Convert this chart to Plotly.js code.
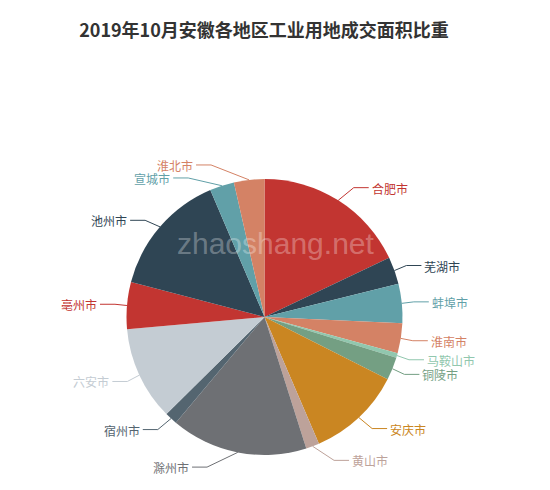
<!DOCTYPE html>
<html>
<head>
<meta charset="utf-8">
<script src="https://cdn.plot.ly/plotly-3.0.1.min.js"></script>
<style>html,body{margin:0;padding:0;background:#fff;}</style>
</head>
<body>
<div id="chart" style="width:550px;height:490px;"></div>
<script>
// ---- data (share of industrial land transaction area, %) ----
const regions = ["合肥市","芜湖市","蚌埠市","淮南市","马鞍山市","铜陵市","安庆市","黄山市","滁州市","宿州市","六安市","亳州市","池州市","宣城市","淮北市"];
const shares  = [17.94, 3.19, 4.58, 3.53, 0.53, 2.69, 11.08, 1.56, 16.0, 1.47, 11.0, 5.5, 14.5, 2.86, 3.56];
const palette = ["#c23531","#2f4554","#61a0a8","#d48265","#91c7ae","#749f83","#ca8622","#bda29a","#6e7074","#546570","#c4ccd3"];
const titleText = "2019年10月安徽各地区工业用地成交面积比重";
const watermark = "zhaoshang.net";

// ---- geometry ----
const W = 550, H = 490;
const CX = 264.5, CY = 317, R = 138;
const LEN = 15, LEN2 = 15, LABEL_H = 13;
const FONT = "Noto Sans CJK SC, Microsoft YaHei, sans-serif";

const colors = regions.map((_, i) => palette[i % palette.length]);
const total = shares.reduce((a, b) => a + b, 0);

// label layout (ECharts-like)
let acc = 0;
const items = shares.map((v, i) => {
  const mid = (acc + v / 2) / total * 2 * Math.PI;
  acc += v;
  const dx = Math.sin(mid), dy = -Math.cos(mid);
  const x1 = CX + R * dx, y1 = CY + R * dy;
  const x2 = x1 + dx * LEN, y2 = y1 + dy * LEN;
  const x3 = x2 + (dx < 0 ? -1 : 1) * LEN2;
  return {i, dx, x: x3 + (dx < 0 ? -5 : 5), y: y2, height: LABEL_H,
          pts: [[x1, y1], [x2, y2], [x3, y2]]};
});

function adjustSingleSide(list, dir) {
  list.sort((a, b) => a.y - b.y);
  function shiftUp(end, delta) {
    for (let j = end; j >= 0; j--) {
      list[j].y -= delta;
      if (j > 0 && list[j].y > list[j - 1].y + list[j - 1].height) break;
    }
  }
  function shiftDown(start, end, delta) {
    for (let j = start; j < end; j++) {
      list[j].y += delta;
      if (j > start && j + 1 < end && list[j + 1].y > list[j].y + list[j].height) {
        shiftUp(j, delta / 2);
        return;
      }
    }
    shiftUp(end - 1, delta / 2);
  }
  function changeX(sub, isDown) {
    let last = isDown ? Infinity : 0;
    sub.forEach(it => {
      const dY = Math.abs(it.y - CY);
      let dX = dY < R + LEN ? Math.sqrt((R + LEN + LEN2) ** 2 - dY * dY) : Math.abs(it.x - CX);
      if (isDown && dX >= last) dX = last - 10;
      if (!isDown && dX <= last) dX = last + 10;
      it.x = CX + dX * dir;
      last = dX;
    });
  }
  let lastY = 0;
  for (let i = 0; i < list.length; i++) {
    const d = list[i].y - lastY;
    if (d < 0) shiftDown(i, list.length, -d);
    lastY = list[i].y + list[i].height;
  }
  if (H - lastY < 0) shiftUp(list.length - 1, lastY - H);
  const up = [], down = [];
  list.forEach(it => (it.y >= CY ? down : up).push(it));
  changeX(up, false);
  changeX(down, true);
}
const leftList = items.filter(it => it.x < CX);
const rightList = items.filter(it => it.x >= CX);
adjustSingleSide(rightList, 1);
adjustSingleSide(leftList, -1);
items.forEach(it => {
  const p = it.pts;
  const dist = p[1][0] - p[2][0];
  p[2][0] = it.x < CX ? it.x + 3 : it.x - 3;
  p[1][1] = p[2][1] = it.y;
  p[1][0] = p[2][0] + dist;
});

const traces = [];
items.forEach(it => {
  traces.push({
    type: "scatter", mode: "lines", xaxis: "x", yaxis: "y",
    x: it.pts.map(p => p[0]), y: it.pts.map(p => p[1]),
    line: {color: colors[it.i], width: 1}, hoverinfo: "skip", showlegend: false
  });
});
traces.push({
  type: "pie", labels: regions, values: shares, sort: false,
  direction: "clockwise", rotation: 0,
  marker: {colors: colors, line: {width: 0}},
  textinfo: "none", hoverinfo: "label+percent",
  domain: {x: [(CX - R) / W, (CX + R) / W], y: [(H - CY - R) / H, (H - CY + R) / H]},
  showlegend: false
});

const annotations = items.map(it => ({
  x: it.x, y: it.y, xref: "x", yref: "y",
  text: regions[it.i], showarrow: false,
  xanchor: it.x < CX ? "right" : "left", yanchor: "middle",
  borderpad: 0, borderwidth: 0, height: 14,
  font: {family: FONT, size: 12, color: colors[it.i]}
}));
annotations.push({
  x: 275, y: 243, xref: "x", yref: "y", text: watermark, showarrow: false,
  xanchor: "center", yanchor: "middle",
  font: {family: "Liberation Sans, Arial, sans-serif", size: 30, color: "rgba(255,255,255,0.3)"}
});

const layout = {
  width: W, height: H, margin: {l: 0, r: 0, t: 0, b: 0},
  paper_bgcolor: "#fff", plot_bgcolor: "rgba(0,0,0,0)",
  showlegend: false,
  title: {text: titleText, x: 264 / W, xanchor: "center", xref: "paper",
          y: 1 - 31 / H, yanchor: "middle", yref: "container",
          font: {family: FONT, size: 18, color: "#333", weight: "bold"}},
  xaxis: {range: [0, W], visible: false, fixedrange: true, domain: [0, 1]},
  yaxis: {range: [H, 0], visible: false, fixedrange: true, domain: [0, 1]},
  annotations: annotations
};

Plotly.newPlot("chart", traces, layout, {displayModeBar: false, staticPlot: true});
</script>
</body>
</html>
